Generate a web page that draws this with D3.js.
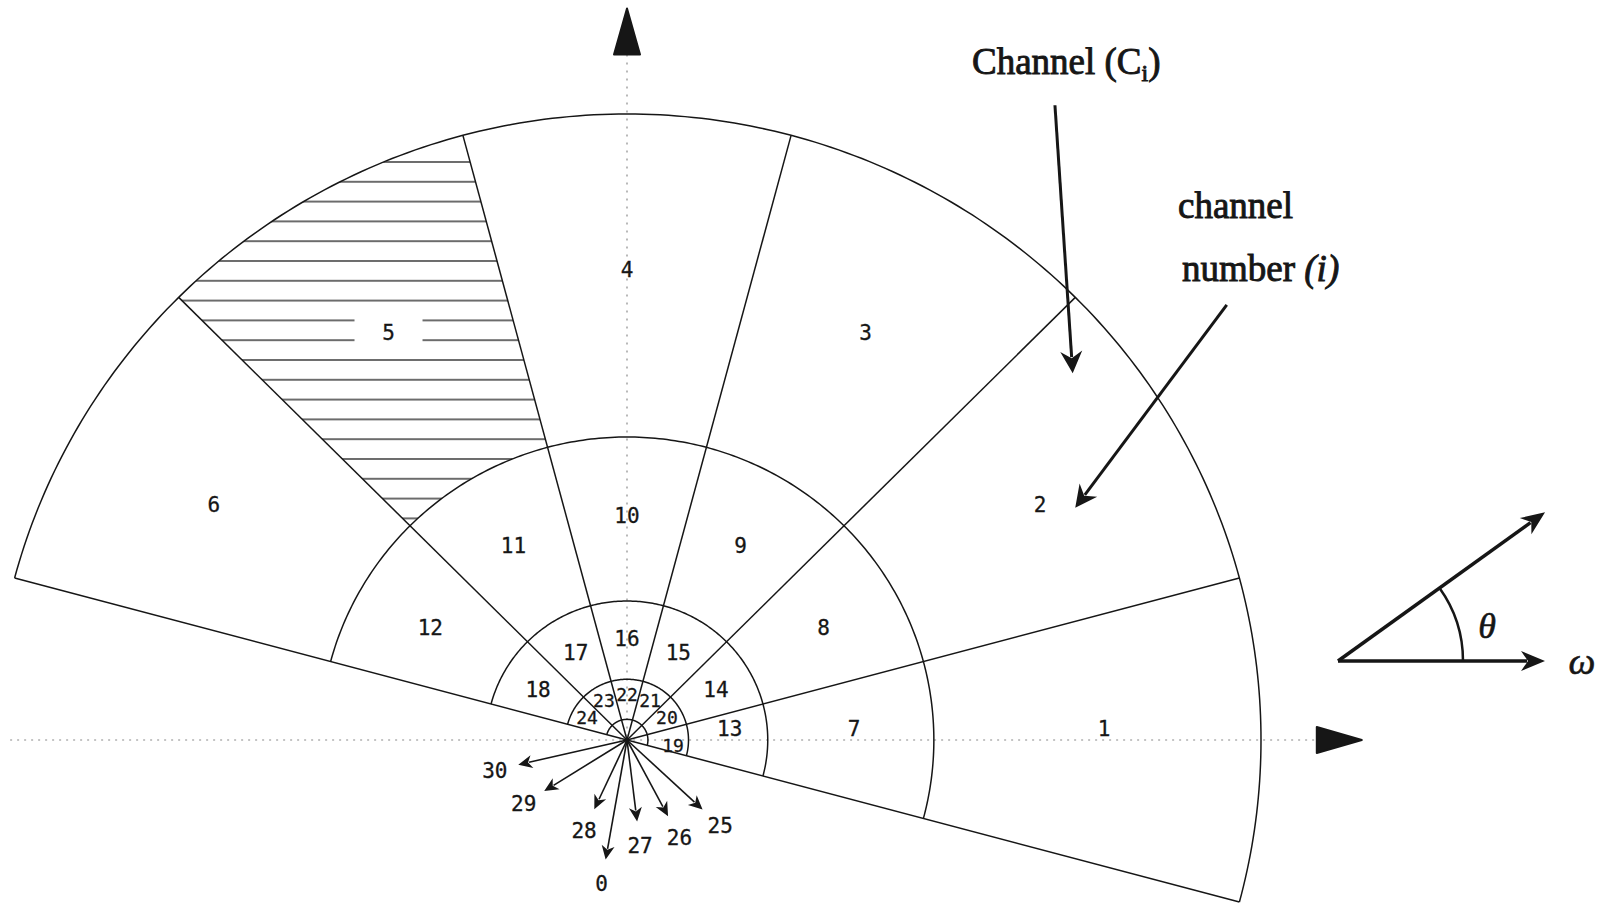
<!DOCTYPE html>
<html>
<head>
<meta charset="utf-8">
<script src="https://cdn.jsdelivr.net/npm/d3@7/dist/d3.min.js"></script>
<style>
  html, body { margin: 0; padding: 0; background: #fff; }
  svg { display: block; }
</style>
</head>
<body>
<div id="chart"></div>
<script>
// Rayons des anneaux (bord extérieur de chaque anneau, rayon max = 1)
const ringRadii = [1.0, 0.484, 0.222, 0.097, 0.033];
// Limites angulaires des six secteurs (degrés)
const sectorEdges = [-15, 15, 45, 75, 105, 135, 165];
// Numéros de canaux par anneau, sens trigo depuis l'axe ω
const ringChannels = [
    [1, 2, 3, 4, 5, 6],
    [7, 8, 9, 10, 11, 12],
    [13, 14, 15, 16, 17, 18],
    [19, 20, 21, 22, 23, 24]
];
const hatchedChannels = [5];
// Canaux "directionnels" dessinés en flèches depuis l'origine
const arrowLabels = ["30", "29", "28", "0", "27", "26", "25"];
const arrowAngles = [193, 212, 245, 260, 277, 298, 317];
const arrowLengths = [0.176, 0.154, 0.122, 0.194, 0.131, 0.138, 0.163];

document.addEventListener("DOMContentLoaded", () => {
    const W = 1605, H = 904;
    const cx = 627, cy = 740;
    const INK = "#161616";

    // échelles du plan fréquentiel
    const x = d3.scaleLinear().domain([0, 1]).range([cx, cx + 634]);
    const y = d3.scaleLinear().domain([0, 1]).range([cy, cy - 626]);
    const rad = a => a * Math.PI / 180;
    const px = (r, a) => x(r * Math.cos(rad(a)));
    const py = (r, a) => y(r * Math.sin(rad(a)));

    const lineGen = d3.line().x(d => px(d[0], d[1])).y(d => py(d[0], d[1]));
    const arcPoints = (r, a0, a1) => d3.range(0, 241).map(i => [r, a0 + (a1 - a0) * i / 240]);

    const svg = d3.select("#chart").append("svg")
        .attr("width", W)
        .attr("height", H);
    svg.append("rect").attr("width", W).attr("height", H).attr("fill", "#fff");

    const defs = svg.append("defs");
    const hatch = defs.append("pattern")
        .attr("id", "hatch")
        .attr("patternUnits", "userSpaceOnUse")
        .attr("x", 0).attr("y", 161)
        .attr("width", 40).attr("height", 19.8);
    hatch.append("line")
        .attr("x1", 0).attr("x2", 40).attr("y1", 1).attr("y2", 1)
        .attr("stroke", "#3a3a3a").attr("stroke-width", 1.5);

    // flèche : trait + pointe pleine échancrée
    function drawArrow(g, x1, y1, x2, y2, len, half, notch, width) {
        const ang = Math.atan2(y2 - y1, x2 - x1);
        const back = len - notch + 1;
        g.append("line")
            .attr("x1", x1).attr("y1", y1)
            .attr("x2", x2 - back * Math.cos(ang)).attr("y2", y2 - back * Math.sin(ang))
            .attr("stroke", INK).attr("stroke-width", width);
        g.append("path")
            .attr("d", `M0,0L${-len},${-half}L${-len + notch},0L${-len},${half}Z`)
            .attr("transform", `translate(${x2},${y2}) rotate(${ang * 180 / Math.PI})`)
            .attr("fill", INK);
    }

    // --- hachures du canal 5
    ringChannels.forEach((chs, ri) => {
        chs.forEach((ch, si) => {
            if (!hatchedChannels.includes(ch)) return;
            const a0 = sectorEdges[si], a1 = sectorEdges[si + 1];
            const pts = arcPoints(ringRadii[ri], a0, a1).concat(arcPoints(ringRadii[ri + 1], a1, a0));
            defs.append("clipPath").attr("id", `clip-${ch}`)
                .append("path").attr("d", lineGen(pts) + "Z");
            svg.append("rect")
                .attr("x", 0).attr("y", 152).attr("width", W).attr("height", 420)
                .attr("fill", "url(#hatch)")
                .attr("clip-path", `url(#clip-${ch})`);
        });
    });

    // --- axes pointillés
    const axisEndX = x(1.088), axisTopY = y(1.095);
    svg.append("line")
        .attr("x1", x(-0.973)).attr("x2", axisEndX)
        .attr("y1", y(0)).attr("y2", y(0))
        .attr("stroke", "#8a8a8a").attr("stroke-width", 1.2)
        .attr("stroke-dasharray", "2,5");
    svg.append("line")
        .attr("x1", x(0)).attr("x2", x(0))
        .attr("y1", axisTopY).attr("y2", y(0))
        .attr("stroke", "#8a8a8a").attr("stroke-width", 1.2)
        .attr("stroke-dasharray", "2,6");
    svg.append("path")
        .attr("d", `M${axisEndX},${y(0) - 13}L${axisEndX + 45},${y(0)}L${axisEndX},${y(0) + 13}Z`)
        .attr("fill", INK).attr("stroke", INK).attr("stroke-width", 2).attr("stroke-linejoin", "round");
    svg.append("path")
        .attr("d", `M${x(0) - 13},${axisTopY}L${x(0)},${axisTopY - 46}L${x(0) + 13},${axisTopY}Z`)
        .attr("fill", INK).attr("stroke", INK).attr("stroke-width", 2).attr("stroke-linejoin", "round");

    // --- anneaux et rayons
    const grid = svg.append("g").attr("fill", "none").attr("stroke", INK).attr("stroke-width", 1.5);
    ringRadii.forEach(r => {
        grid.append("path").attr("d", lineGen(arcPoints(r, sectorEdges[0], sectorEdges[sectorEdges.length - 1])));
    });
    sectorEdges.forEach(a => {
        grid.append("path").attr("d", lineGen([[0, a], [1, a]]));
    });

    // --- numéros des canaux
    const labels = svg.append("g")
        .attr("font-family", "'DejaVu Sans Mono', monospace")
        .attr("font-size", 21)
        .attr("fill", INK)
        .attr("stroke", INK)
        .attr("stroke-width", 0.3)
        .attr("text-anchor", "middle");
    ringChannels.forEach((chs, ri) => {
        const rIn = ringRadii[ri + 1], rOut = ringRadii[ri];
        const inner = ri === ringChannels.length - 1;
        const rl = rIn + (rOut - rIn) * (inner ? 0.62 : 0.52);
        chs.forEach((ch, si) => {
            const a = (sectorEdges[si] + sectorEdges[si + 1]) / 2;
            const nudge = si === 0 ? (inner ? 6 : -12) : 0;
            const lx = px(rl, a), ly = py(rl, a) + nudge;
            if (hatchedChannels.includes(ch)) {
                labels.append("rect")
                    .attr("x", lx - 34).attr("y", ly - 20)
                    .attr("width", 68).attr("height", 40)
                    .attr("fill", "#fff").attr("stroke", "none");
            }
            labels.append("text")
                .attr("x", lx).attr("y", ly)
                .attr("dy", "0.36em")
                .attr("font-size", inner ? 18 : null)
                .text(ch);
        });
    });

    // --- flèches depuis l'origine
    const arrows = svg.append("g");
    arrowLabels.forEach((lab, i) => {
        const a = arrowAngles[i], L = arrowLengths[i];
        drawArrow(arrows, x(0), y(0), px(L, a), py(L, a), 14, 6.5, 4, 1.6);
        labels.append("text")
            .attr("x", px(L + 0.038, a)).attr("y", py(L + 0.038, a))
            .attr("dy", "0.36em")
            .text(lab);
    });

    // --- annotations
    const ann = svg.append("g")
        .attr("font-family", "'Liberation Serif', 'Times New Roman', serif")
        .attr("font-size", 37)
        .attr("fill", INK)
        .attr("stroke", INK)
        .attr("stroke-width", 0.9);
    const t1 = ann.append("text").attr("x", 972).attr("y", 74);
    t1.append("tspan").text("Channel (C");
    t1.append("tspan").attr("font-size", 24).attr("dy", 7).text("i");
    t1.append("tspan").attr("dy", -7).text(")");
    ann.append("text").attr("x", 1178).attr("y", 218).text("channel");
    const t3 = ann.append("text").attr("x", 1182).attr("y", 281);
    t3.append("tspan").text("number ");
    t3.append("tspan").attr("font-style", "italic").text("(i)");

    drawArrow(svg, x(0.675), y(1.014), x(0.703), y(0.586), 22, 11, 7, 3);
    drawArrow(svg, x(0.946), y(0.695), x(0.707), y(0.371), 22, 11, 7, 3);

    // --- repère (ω, θ)
    const inset = svg.append("g").attr("transform", "translate(1338,661)");
    const th = rad(35.7);
    drawArrow(inset, 0, 0, 207, 0, 24, 10, 7, 3.5);
    drawArrow(inset, 0, 0, 255 * Math.cos(th), -255 * Math.sin(th), 24, 10, 7, 3.5);
    const arcP = d3.path();
    arcP.moveTo(125 * Math.cos(th), -125 * Math.sin(th));
    arcP.arc(0, 0, 125, -th, 0, false);
    inset.append("path").attr("d", arcP.toString())
        .attr("fill", "none").attr("stroke", INK).attr("stroke-width", 2.5);
    inset.append("text")
        .attr("x", 149).attr("y", -36).attr("dy", "0.35em")
        .attr("text-anchor", "middle")
        .attr("font-family", "'Liberation Serif', serif")
        .attr("font-style", "italic").attr("font-size", 36)
        .attr("fill", INK).attr("stroke", INK).attr("stroke-width", 0.6)
        .text("θ");
    inset.append("text")
        .attr("x", 244).attr("y", 2).attr("dy", "0.3em")
        .attr("text-anchor", "middle")
        .attr("font-family", "'Liberation Serif', serif")
        .attr("font-style", "italic").attr("font-size", 38)
        .attr("fill", INK).attr("stroke", INK).attr("stroke-width", 0.6)
        .text("ω");
});
</script>
</body>
</html>
